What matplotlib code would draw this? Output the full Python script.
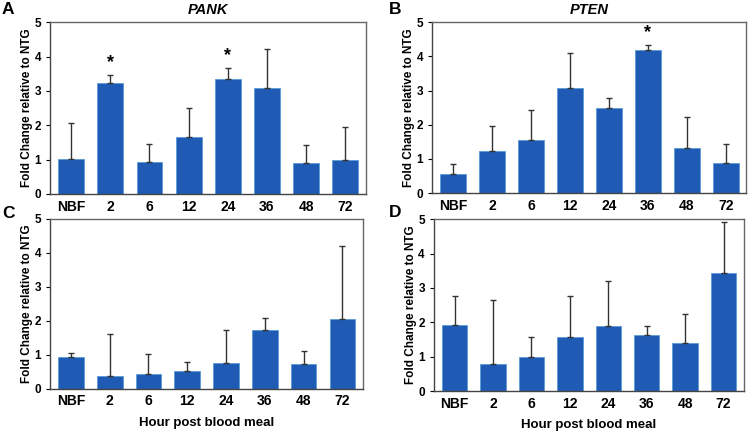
import numpy as np
import matplotlib.pyplot as plt

plt.rcParams['font.family'] = ['Liberation Sans', 'DejaVu Sans']
plt.rcParams['font.weight'] = 'bold'

hours = ['NBF', '2', '6', '12', '24', '36', '48', '72']

# panel A - PANK
pank = [1.02, 3.24, 0.94, 1.67, 3.36, 3.07, 0.90, 0.99]
pank_top = [2.06, 3.46, 1.45, 2.51, 3.67, 4.21, 1.42, 1.95]
pank_star = [1, 4]

# panel B - PTEN
pten = [0.56, 1.24, 1.56, 3.08, 2.50, 4.19, 1.32, 0.88]
pten_top = [0.85, 1.96, 2.42, 4.10, 2.77, 4.32, 2.23, 1.43]
pten_star = [5]

# panel C
c_vals = [0.94, 0.38, 0.44, 0.53, 0.75, 1.73, 0.74, 2.05]
c_top = [1.05, 1.61, 1.02, 0.79, 1.73, 2.08, 1.10, 4.21]

# panel D
d_vals = [1.92, 0.79, 0.99, 1.58, 1.90, 1.64, 1.40, 3.44]
d_top = [2.76, 2.65, 1.57, 2.76, 3.19, 1.89, 2.24, 4.91]

bar_color = '#1f5bb5'

fig = plt.figure(figsize=(7.48, 4.34), dpi=100)

# letter, title, values, error tops, starred bars, axes rect, x label, letter pos
panels = [
    ('A', 'PANK', pank, pank_top, pank_star, [0.0668, 0.553, 0.422, 0.396], False, (-0.152, 1.076)),
    ('B', 'PTEN', pten, pten_top, pten_star, [0.5775, 0.555, 0.420, 0.394], False, (-0.137, 1.076)),
    ('C', '', c_vals, c_top, [], [0.0668, 0.104, 0.418, 0.392], True, (-0.152, 1.033)),
    ('D', '', d_vals, d_top, [], [0.580, 0.099, 0.414, 0.396], True, (-0.145, 1.04)),
]

for letter, title, vals, tops, stars, pos, xlab, lpos in panels:
    ax = fig.add_axes(pos)
    x = np.arange(len(hours))
    vals = np.array(vals)
    up = np.array(tops) - vals
    ax.bar(x, vals, width=0.66, color=bar_color, edgecolor='#5b9bd5', linewidth=0.6,
           yerr=[np.zeros_like(vals), up], capsize=2.5,
           error_kw=dict(ecolor='#333333', elinewidth=1, capthick=1))
    for i in stars:
        ax.text(x[i], tops[i] + 0.12, '*', ha='center', va='bottom', fontsize=13, fontweight='bold')
    ax.set_xlim(-0.54, 7.52)
    ax.set_ylim(0, 5)
    ax.set_yticks(range(6))
    ax.set_xticks(x)
    ax.set_xticklabels(hours, fontsize=10, fontweight='bold')
    ax.tick_params(axis='x', length=0, pad=4)
    ax.tick_params(axis='y', labelsize=8.5, length=3, direction='out', width=0.8)
    for lbl in ax.get_yticklabels():
        lbl.set_fontweight('bold')
    for side in ['top', 'right']:
        ax.spines[side].set_color('#666666')
        ax.spines[side].set_linewidth(1)
    for side in ['left', 'bottom']:
        ax.spines[side].set_color('#444444')
        ax.spines[side].set_linewidth(1)
    ax.set_ylabel('Fold Change relative to NTG', fontsize=8.5, fontweight='bold', labelpad=1)
    if title:
        ax.set_title(title, fontsize=10.5, fontweight='bold', style='italic', pad=6)
    if xlab:
        ax.set_xlabel('Hour post blood meal', fontsize=9.5, fontweight='bold', labelpad=6)
    ax.text(lpos[0], lpos[1], letter, transform=ax.transAxes,
            fontsize=12.5, fontweight='bold', ha='left', va='center')

fig.savefig('out.png', dpi=100)
